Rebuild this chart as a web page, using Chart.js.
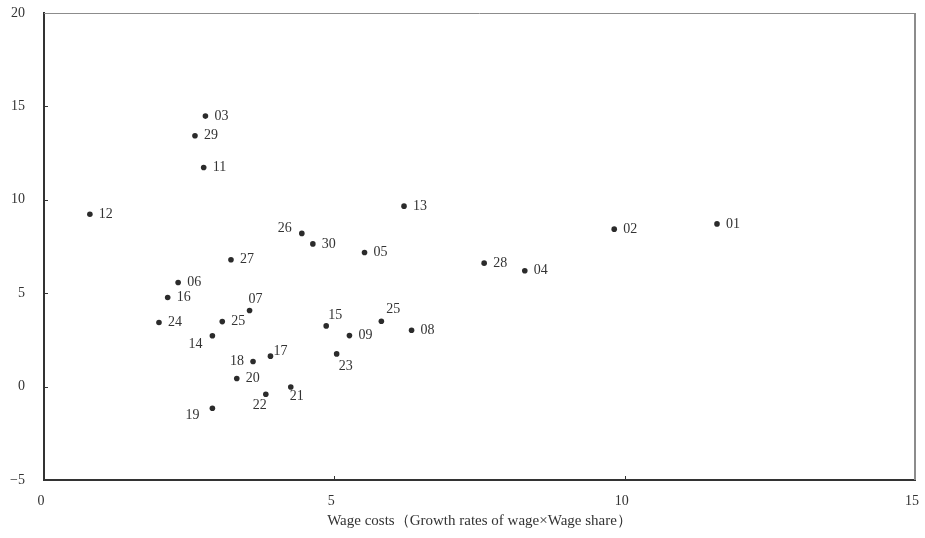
<!DOCTYPE html>
<html>
<head>
<meta charset="utf-8">
<script src="https://cdn.jsdelivr.net/npm/chart.js@4/dist/chart.umd.min.js"></script>
<style>
  body { margin: 0; background: #fff; }
  #wrap { width: 925px; height: 538px; position: relative; }
</style>
</head>
<body>
<div id="wrap"><canvas id="scatter"></canvas></div>
<script>
// point codes and values
const codes = ['01','02','03','04','05','06','07','08','09','11','12','13','14','15','16',
  '17','18','19','20','21','22','23','24','25','25','26','27','28','29','30'];
const wageCosts = [11.59, 9.82, 2.78, 8.28, 5.52, 2.31, 3.54, 6.33, 5.26, 2.75, 0.79, 6.20, 2.90, 4.86, 2.13,
  3.90, 3.60, 2.90, 3.32, 4.25, 3.82, 5.04, 1.98, 3.07, 5.81, 4.44, 3.22, 7.58, 2.60, 4.63];
const yValues = [8.71, 8.43, 14.48, 6.20, 7.18, 5.57, 4.07, 3.02, 2.73, 11.73, 9.23, 9.66, 2.72, 3.25, 4.77,
  1.63, 1.34, -1.16, 0.43, -0.02, -0.41, 1.75, 3.43, 3.48, 3.50, 8.20, 6.79, 6.61, 13.43, 7.64];

const xTicks = [0, 5, 10, 15];
const yTicks = [-5, 0, 5, 10, 15, 20];

const FONT = "'Liberation Serif', 'Times New Roman', serif";
const TEXT = '#333';

// where to put the label of a point (by index), default is to the right
const labelPlacement = {
  6:  { dx: 6,   dy: -11, align: 'center' },  // 07
  12: { dx: -10, dy: 9,   align: 'right' },   // 14
  13: { dx: 2,   dy: -11, align: 'left' },    // 15
  15: { dx: 3,   dy: -5,  align: 'left' },    // 17
  16: { dx: -9,  dy: 0,   align: 'right' },   // 18
  17: { dx: -13, dy: 7,   align: 'right' },   // 19
  19: { dx: -1,  dy: 9,   align: 'left' },    // 21
  20: { dx: 1,   dy: 11,  align: 'right' },   // 22
  21: { dx: 2,   dy: 12,  align: 'left' },    // 23
  24: { dx: 5,   dy: -12, align: 'left' },    // 25 (right one)
  25: { dx: -10, dy: -5,  align: 'right' },   // 26
};

const points = wageCosts.map((x, i) => ({ x: x, y: yValues[i] }));

const pointLabels = {
  id: 'pointLabels',
  afterDatasetsDraw(chart) {
    const ctx = chart.ctx;
    const meta = chart.getDatasetMeta(0);
    ctx.save();
    ctx.font = '14px ' + FONT;
    ctx.fillStyle = TEXT;
    ctx.textBaseline = 'middle';
    meta.data.forEach((el, i) => {
      const p = labelPlacement[i] || { dx: 9, dy: 0, align: 'left' };
      ctx.textAlign = p.align;
      ctx.fillText(codes[i], el.x + p.dx, el.y + p.dy);
    });
    ctx.restore();
  }
};

// frame: grey top/right, inward tick marks
const frame = {
  id: 'frame',
  afterDraw(chart) {
    const ctx = chart.ctx;
    const a = chart.chartArea;
    const xs = chart.scales.x, ys = chart.scales.y;
    ctx.save();
    ctx.strokeStyle = '#8c8c8c';
    ctx.lineWidth = 1;
    ctx.beginPath();
    ctx.moveTo(a.left, a.top + 0.5);
    ctx.lineTo(a.right, a.top + 0.5);
    ctx.stroke();
    ctx.lineWidth = 2;
    ctx.beginPath();
    ctx.moveTo(a.right, a.top);
    ctx.lineTo(a.right, a.bottom);
    ctx.stroke();

    ctx.strokeStyle = '#333';
    ctx.lineWidth = 1;
    ctx.beginPath();
    xTicks.slice(1, -1).forEach(v => {
      const px = Math.round(xs.getPixelForValue(v)) + 0.5;
      ctx.moveTo(px, a.bottom);
      ctx.lineTo(px, a.bottom - 4);
    });
    yTicks.slice(1, -1).forEach(v => {
      const py = Math.round(ys.getPixelForValue(v)) + 0.5;
      ctx.moveTo(a.left, py);
      ctx.lineTo(a.left + 4, py);
    });
    ctx.stroke();
    ctx.restore();
  }
};

const config = {
  type: 'scatter',
  data: {
    datasets: [{
      data: points,
      backgroundColor: '#2b2b2b',
      borderWidth: 0,
      pointRadius: 2.8,
      pointHoverRadius: 2.8,
    }]
  },
  options: {
    responsive: true,
    maintainAspectRatio: false,
    animation: false,
    events: [],
    layout: {
      autoPadding: false,
      padding: { top: 13, right: 10, left: 0, bottom: 0 }
    },
    plugins: {
      legend: { display: false },
      tooltip: { enabled: false },
    },
    scales: {
      x: {
        type: 'linear',
        min: 0,
        max: 15,
        afterBuildTicks: (s) => { s.ticks = xTicks.map(v => ({ value: v })); },
        afterFit: (s) => {
          s.height = 58;
          s.paddingLeft = 0;
          s.paddingRight = 0;
        },
        grid: { display: false, drawTicks: false },
        border: { display: true, color: '#333', width: 2 },
        ticks: {
          padding: 13,
          labelOffset: -3,
          color: TEXT,
          font: { family: FONT, size: 14 },
        },
        title: {
          display: true,
          text: 'Wage costs（Growth rates of wage×Wage share）',
          color: TEXT,
          font: { family: FONT, size: 15 },
          padding: { top: 0, bottom: 8 },
        }
      },
      y: {
        type: 'linear',
        min: -5,
        max: 20,
        afterBuildTicks: (s) => { s.ticks = yTicks.map(v => ({ value: v })); },
        afterFit: (s) => {
          s.width = 44;
          s.paddingTop = 0;
          s.paddingBottom = 0;
        },
        grid: { display: false, drawTicks: false },
        border: { display: true, color: '#333', width: 2 },
        ticks: {
          padding: 19,
          color: TEXT,
          font: { family: FONT, size: 14 },
          callback: (v) => String(v).replace('-', '−'),
        }
      }
    }
  },
  plugins: [pointLabels, frame]
};

const myChart = new Chart(document.getElementById('scatter'), config);
</script>
</body>
</html>
